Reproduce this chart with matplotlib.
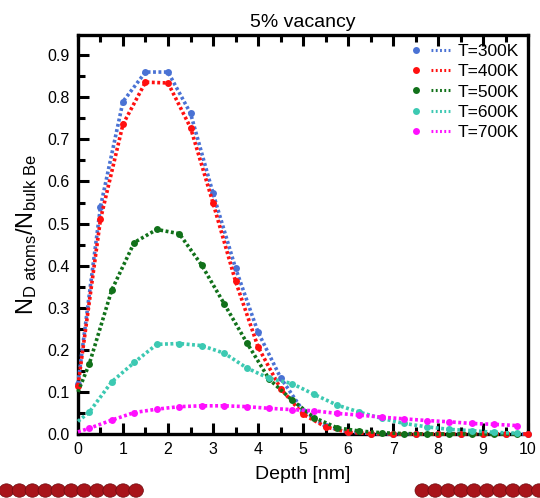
import numpy as np
import matplotlib
matplotlib.use("Agg")
import matplotlib.pyplot as plt
from matplotlib.lines import Line2D
from matplotlib.legend_handler import HandlerTuple
from matplotlib.patches import Circle

plt.rcParams['font.family'] = ['Liberation Sans', 'DejaVu Sans']
plt.rcParams['mathtext.default'] = 'regular'

# --- data ---
depth_a = [0.0, 0.5, 1.0, 1.5, 2.0, 2.5, 3.0, 3.5, 4.0, 4.5, 5.0, 5.5, 6.0,
           6.5, 7.0, 7.5, 8.0, 8.5, 9.0, 9.5, 10.0]
t300 = [0.12, 0.54, 0.79, 0.86, 0.86, 0.762, 0.572, 0.394, 0.242, 0.134, 0.055,
        0.018, 0.005, 0.001, 0.0, 0.0, 0.0, 0.0, 0.0, 0.0, 0.0]
t400 = [0.115, 0.51, 0.736, 0.836, 0.834, 0.728, 0.549, 0.363, 0.207, 0.108, 0.047,
        0.017, 0.004, 0.001, 0.0, 0.0, 0.0, 0.0, 0.0, 0.0, 0.0]

depth_b = [0.0, 0.25, 0.75, 1.25, 1.75, 2.25, 2.75, 3.25, 3.75, 4.25, 4.75, 5.25,
           5.75, 6.25, 6.75, 7.25, 7.75, 8.25, 8.75, 9.25, 9.75]
t500 = [0.10, 0.166, 0.342, 0.455, 0.486, 0.476, 0.401, 0.309, 0.217, 0.130, 0.081,
        0.039, 0.015, 0.007, 0.003, 0.001, 0.0, 0.0, 0.0, 0.0, 0.0]
t600 = [0.03, 0.052, 0.124, 0.170, 0.213, 0.215, 0.210, 0.192, 0.157, 0.132, 0.120,
        0.094, 0.069, 0.052, 0.037, 0.025, 0.017, 0.011, 0.008, 0.004, 0.002]
t700 = [0.005, 0.0135, 0.033, 0.051, 0.059, 0.065, 0.067, 0.067, 0.065, 0.061, 0.058,
        0.055, 0.049, 0.045, 0.040, 0.036, 0.032, 0.029, 0.025, 0.023, 0.020]

labels = ['T=300K', 'T=400K', 'T=500K', 'T=600K', 'T=700K']
colors = ['#4a72d4', '#ff1010', '#11711a', '#3cc9b2', '#ff10ff']

fig = plt.figure(figsize=(5.4, 4.98), dpi=100)
ax = fig.add_axes([0.1444, 0.1285, 0.8336, 0.8012])

series = [(depth_a, t300), (depth_a, t400), (depth_b, t500), (depth_b, t600), (depth_b, t700)]
handles = []
for (xs, ys), lab, col in zip(series, labels, colors):
    # the x=0 start of the offset series has no visible marker
    every = slice(1, None) if xs is depth_b else None
    ax.plot(xs, ys, linestyle=(0, (0.8, 0.7)), color=col, linewidth=2.6,
            marker='o', markersize=5, markeredgewidth=0, markevery=every,
            clip_on=False, zorder=3)
    mk = Line2D([], [], color=col, marker='o', markersize=5, markeredgewidth=0, linestyle='none')
    ln = Line2D([], [], color=col, linestyle=(0, (0.6, 0.8)), linewidth=2.2)
    handles.append((mk, ln))

ax.set_xlim(0, 10)
ax.set_ylim(0, 0.948)
ax.set_xticks(np.arange(0, 11, 1))
ax.set_xticks(np.arange(0.5, 10, 1), minor=True)
ax.set_yticks(np.arange(0, 0.91, 0.1))
ax.set_yticks(np.arange(0.05, 0.95, 0.1), minor=True)
ax.set_yticklabels(['%.1f' % t for t in np.arange(0, 0.91, 0.1)])

ax.tick_params(which='both', direction='in', top=True, right=False, labelsize=11.5,
               width=2.2, pad=6)
ax.tick_params(which='major', length=8)
ax.tick_params(which='minor', length=5)
for sp in ax.spines.values():
    sp.set_linewidth(2.4)

ax.set_xlabel('Depth [nm]', fontsize=14, labelpad=6)
ax.set_ylabel(r'N$_{D\ atoms}$/N$_{bulk\ Be}$', fontsize=17, labelpad=6)
ax.set_title('5% vacancy', fontsize=14, pad=6)

leg = ax.legend(handles, labels, loc='upper right', frameon=False, fontsize=12.5,
                handler_map={tuple: HandlerTuple(ndivide=None, pad=0.3)},
                handlelength=2.6, handletextpad=0.4, labelspacing=0.3,
                borderaxespad=0.1)

# decorative atom rows at the bottom corners
for x0, x1 in [(0.0, 0.26), (0.77, 1.0)]:
    for cx in np.arange(x0 + 0.012, x1, 0.024):
        fig.patches.append(Circle((cx, 0.015), 0.0135, transform=fig.transFigure,
                                  facecolor='#a8141a', edgecolor='#6e0a0e', lw=0.5))

fig.savefig('out.png', dpi=100)
